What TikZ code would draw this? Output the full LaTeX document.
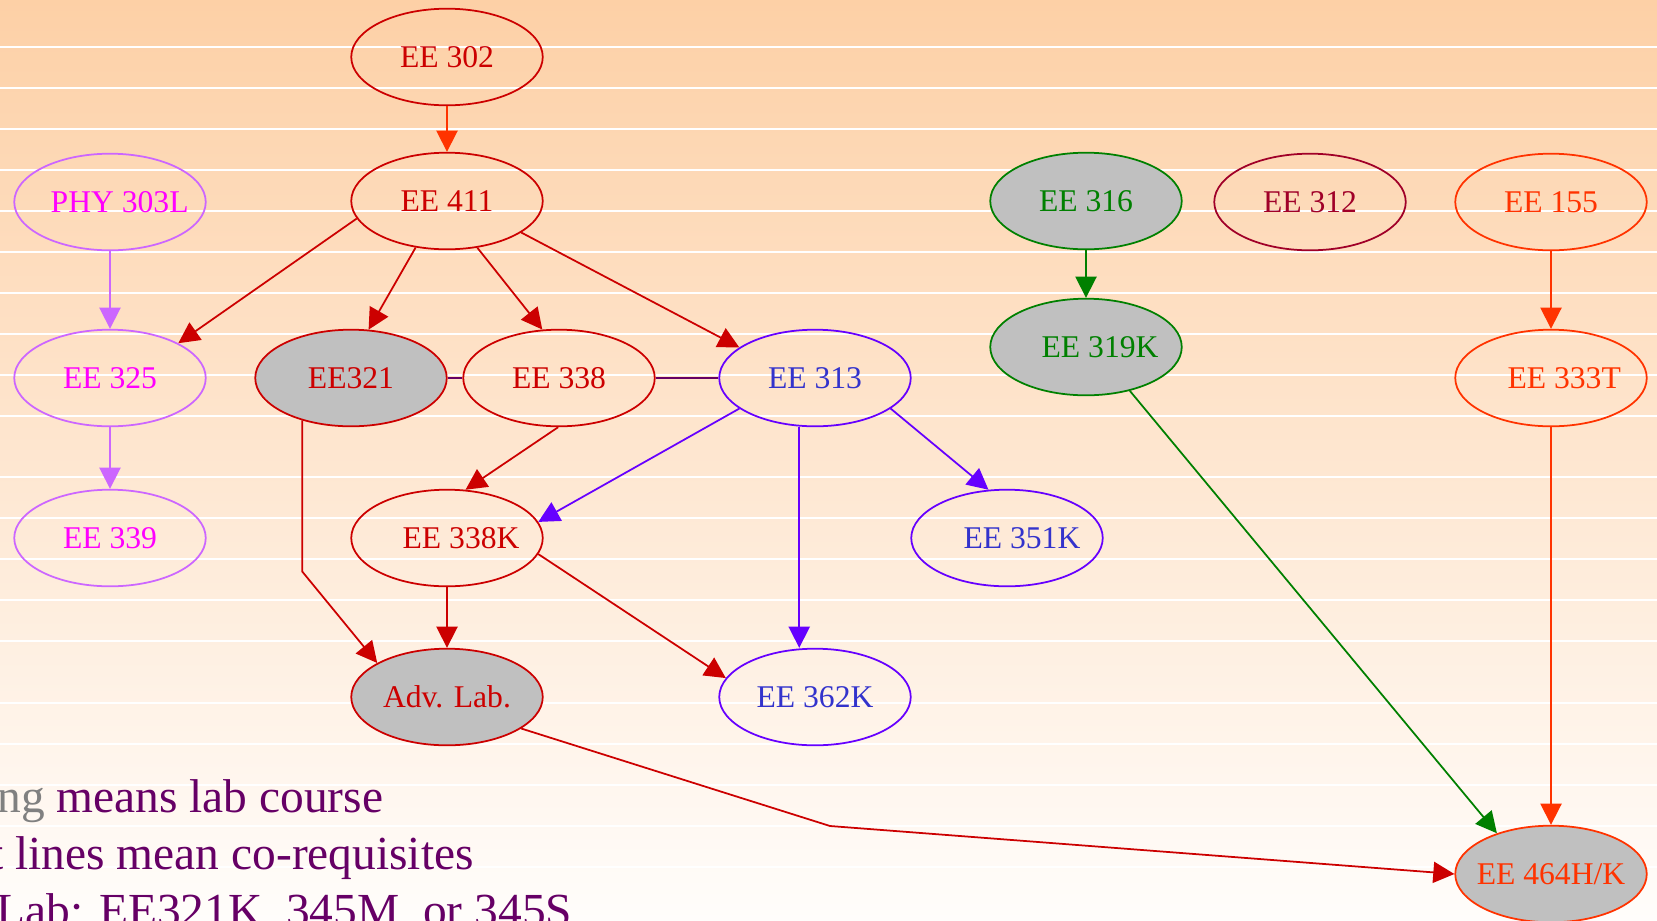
\documentclass[tikz,border=0pt]{standalone}
\usepackage{fontspec}
\setmainfont{Liberation Serif}
\usepackage{xcolor}
\usetikzlibrary{arrows.meta,shapes.geometric}

\definecolor{labred}{RGB}{204,0,0}
\definecolor{hotorange}{RGB}{255,51,0}
\definecolor{wine}{RGB}{160,0,40}
\definecolor{lilac}{RGB}{204,102,255}
\definecolor{phypink}{RGB}{255,0,255}
\definecolor{violetline}{RGB}{102,0,255}
\definecolor{bluetext}{RGB}{51,51,204}
\definecolor{labgreen}{RGB}{0,128,0}
\definecolor{plum}{RGB}{102,0,102}
\definecolor{labgray}{RGB}{192,192,192}
\definecolor{bgtop}{RGB}{253,208,166}
\definecolor{bgmid}{RGB}{255,234,215}
\definecolor{bgbot}{RGB}{255,253,251}

\tikzset{
  course/.style={ellipse, draw, line width=1pt, minimum width=109pt, minimum height=55pt,
    inner xsep=-30pt, inner ysep=0pt, font=\fontsize{18}{20}\selectfont},
  labcourse/.style={course, fill=labgray},
  pre/.style={-{Triangle[length=12pt,width=12pt]}, line width=1pt},
  coreq/.style={plum, line width=1pt},
  note/.style={anchor=base west, inner sep=0pt, plum, font=\fontsize{27}{30}\selectfont}
}

\begin{document}
\begin{tikzpicture}[x=0.02cm, y=-0.02cm]
  % Hintergrund
  \clip (0,0) rectangle (1657,920);
  \shade[top color=bgtop, middle color=bgmid, bottom color=bgbot] (0,0) rectangle (1657,920);
  \foreach \y in {47,88,...,416,477,518,...,641,703,744,...,867}
    \draw[white, line width=0.8pt] (0,\y) -- (1657,\y);

  % Kurse
  \node[course, draw=labred, text=labred] (ee302) at (447,57) {EE 302};
  \node[course, draw=labred, text=labred] (ee411) at (447,201) {EE 411};
  \node[course, draw=lilac, text=phypink] (phy303l) at (110,202) {\hspace*{11pt}PHY 303L};
  \node[course, draw=lilac, text=phypink] (ee325) at (110,378) {EE 325};
  \node[course, draw=lilac, text=phypink] (ee339) at (110,538) {EE 339};
  \node[labcourse, draw=labred, text=labred] (ee321) at (351,378) {EE321};
  \node[course, draw=labred, text=labred] (ee338) at (559,378) {EE 338};
  \node[course, draw=violetline, text=bluetext] (ee313) at (815,378) {EE 313};
  \node[course, draw=labred, text=labred] (ee338k) at (447,538) {\hspace*{16pt}EE 338K};
  \node[course, draw=violetline, text=bluetext] (ee351k) at (1007,538) {\hspace*{17pt}EE 351K};
  \node[labcourse, draw=labred, text=labred] (advlab) at (447,697) {Adv. Lab.};
  \node[course, draw=violetline, text=bluetext] (ee362k) at (815,697) {EE 362K};
  \node[labcourse, draw=labgreen, text=labgreen] (ee316) at (1086,201) {EE 316};
  \node[labcourse, draw=labgreen, text=labgreen] (ee319k) at (1086,347) {\hspace*{16pt}EE 319K};
  \node[course, draw=wine, text=wine] (ee312) at (1310,202) {EE 312};
  \node[course, draw=hotorange, text=hotorange] (ee155) at (1551,202) {EE 155};
  \node[course, draw=hotorange, text=hotorange] (ee333t) at (1551,378) {\hspace*{15pt}EE 333T};
  \node[labcourse, draw=hotorange, text=hotorange] (ee464) at (1551,874) {EE 464H/K};

  % Voraussetzungen
  \draw[pre, hotorange] (ee302) -- (ee411);
  \draw[pre, labred] (ee411.191) -- (ee325.27);
  \draw[pre, labred] (ee411.236) -- (ee321.70);
  \draw[pre, labred] (ee411.303) -- (ee338.109);
  \draw[pre, labred] (ee411.337) -- (ee313.158);
  \draw[pre, labred] (ee338.269) -- (ee338k.69);
  \draw[pre, labred] (ee338k) -- (advlab);
  \draw[pre, labred] (ee338k.350) -- (ee362k.168);
  \draw[pre, labred] (ee321.221) -- ++(0,151) -- (advlab.154);
  \coordinate (advbend) at (830,826);
  \draw[pre, labred] (advlab.337) -- (advbend) -- (ee464.west);
  \draw[pre, violetline] (ee313.202) -- (ee338k.10);
  \draw[pre, violetline] (ee313.252) -- (ee313.252 |- ee362k.north);
  \draw[pre, violetline] (ee313.338) -- (ee351k.111);
  \draw[pre, lilac] (phy303l) -- (ee325);
  \draw[pre, lilac] (ee325) -- (ee339);
  \draw[pre, labgreen] (ee316) -- (ee319k);
  \draw[pre, labgreen] (ee319k.315) -- (ee464.143);
  \draw[pre, hotorange] (ee155) -- (ee333t);
  \draw[pre, hotorange] (ee333t) -- (ee464);

  % Co-requisites
  \draw[coreq] (ee321) -- (ee338);
  \draw[coreq] (ee338) -- (ee313);

  % Legende
  \node[note] (labnote) at (-3,812) {\textcolor{gray}{ng} means lab course};
  \node[note] (coreqnote) at (-10,869) {t lines mean co-requisites};
  \node[note] (advnote) at (-4,926) {Lab: EE321K, 345M, or 345S};
\end{tikzpicture}
\end{document}
